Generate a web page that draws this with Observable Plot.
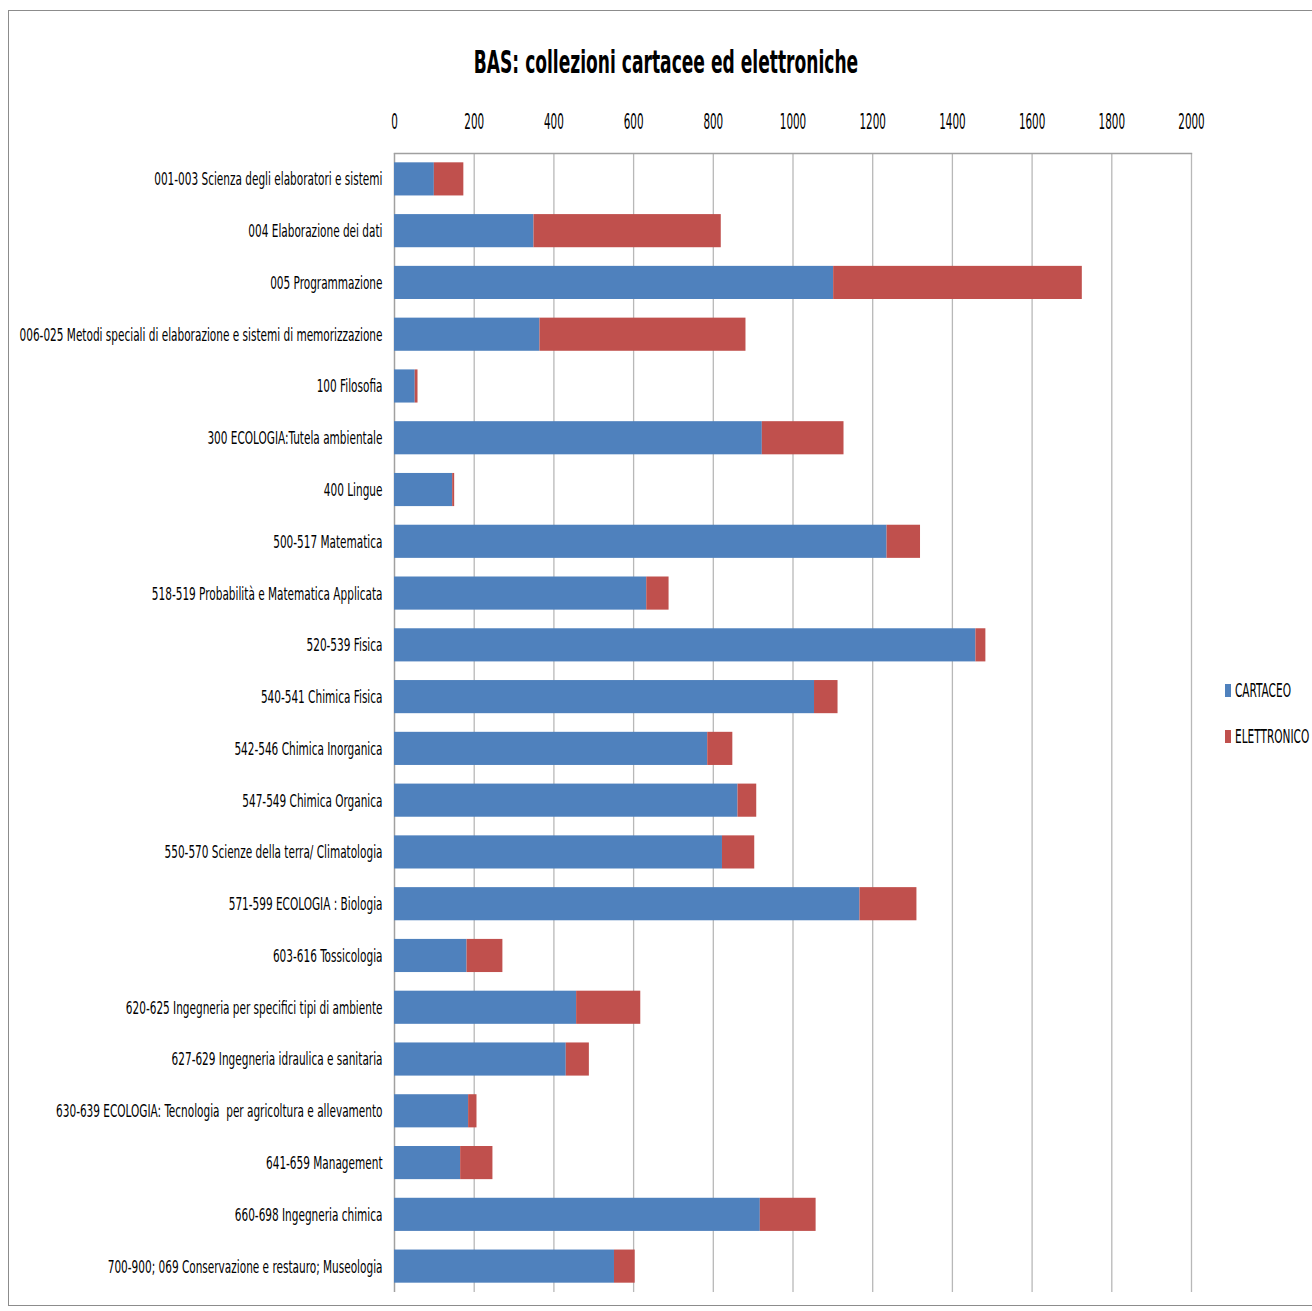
<!DOCTYPE html>
<html>
<head>
<meta charset="utf-8">
<script src="https://cdn.jsdelivr.net/npm/d3@7"></script>
<script src="https://cdn.jsdelivr.net/npm/@observablehq/plot@0.6"></script>
<style>
  html, body { margin: 0; padding: 0; background: #fff; }
  #frame { position: absolute; left: 8px; top: 10px; width: 1310px; height: 1296px; border: 1px solid #8c8c8c; border-right: none; box-sizing: border-box; }
  #title { position: absolute; left: 0; top: 43px; width: 1332px; text-align: center; font-family: "DejaVu Sans Condensed", sans-serif; font-weight: bold; font-size: 25px; color: #000; transform: scale(0.76, 1.3); transform-origin: center top; white-space: nowrap; }
  #chart { position: absolute; left: 0; top: 90px; }
  #chart svg text { font-family: "DejaVu Sans Condensed", sans-serif; }
  .legend { position: absolute; left: 1225px; font-family: "DejaVu Sans Condensed", sans-serif; font-size: 17px; color: #000; display: flex; align-items: center; white-space: nowrap; }
  .legend .lbl { display: inline-block; transform: scale(0.69, 1.1); transform-origin: left center; }
  .sw { display: inline-block; width: 6px; height: 13px; margin-right: 4px; }
</style>
</head>
<body>
<div id="frame"></div>
<div id="title">BAS: collezioni cartacee ed elettroniche</div>
<div id="chart"></div>
<div class="legend" style="top:680px"><span class="sw" style="background:#4F81BD"></span><span class="lbl">CARTACEO</span></div>
<div class="legend" style="top:726px"><span class="sw" style="background:#C0504D"></span><span class="lbl">ELETTRONICO</span></div>
<script>
const categories = [
  "001-003 Scienza degli elaboratori e sistemi",
  "004 Elaborazione dei dati",
  "005 Programmazione",
  "006-025 Metodi speciali di elaborazione e sistemi di memorizzazione",
  "100 Filosofia",
  "300 ECOLOGIA:Tutela ambientale",
  "400 Lingue",
  "500-517 Matematica",
  "518-519 Probabilità e Matematica Applicata",
  "520-539 Fisica",
  "540-541 Chimica Fisica",
  "542-546 Chimica Inorganica",
  "547-549 Chimica Organica",
  "550-570 Scienze della terra/ Climatologia",
  "571-599 ECOLOGIA : Biologia",
  "603-616 Tossicologia",
  "620-625 Ingegneria per specifici tipi di ambiente",
  "627-629 Ingegneria idraulica e sanitaria",
  "630-639 ECOLOGIA: Tecnologia  per agricoltura e allevamento",
  "641-659 Management",
  "660-698 Ingegneria chimica",
  "700-900; 069 Conservazione e restauro; Museologia"
];
const cartaceo = [100, 350, 1102, 365, 52, 923, 146, 1236, 633, 1459, 1054, 786, 862, 823, 1168, 182, 457, 431, 186, 166, 918, 552];
const elettronico = [74, 470, 624, 517, 7, 205, 5, 84, 56, 25, 59, 63, 47, 81, 143, 90, 161, 58, 21, 81, 140, 52];
const seriesNames = ["CARTACEO", "ELETTRONICO"];
const seriesColors = ["#4F81BD", "#C0504D"];
const xTicks = [0, 200, 400, 600, 800, 1000, 1200, 1400, 1600, 1800, 2000];

const table = [];
categories.forEach((c, i) => {
  table.push({category: c, series: seriesNames[0], value: cartaceo[i]});
  table.push({category: c, series: seriesNames[1], value: elettronico[i]});
});

const chart = Plot.plot({
  width: 1210,
  height: 1207,
  marginLeft: 394,
  marginRight: 19,
  marginTop: 63,
  marginBottom: 5,
  x: {domain: [0, 2000], ticks: xTicks, axis: null},
  y: {domain: categories, paddingInner: 0.36, paddingOuter: 0.18, round: false, axis: null},
  color: {domain: seriesNames, range: seriesColors},
  marks: [
    Plot.gridX(xTicks, {stroke: "#b8b8b8", strokeOpacity: 1, strokeWidth: 1.3}),
    Plot.ruleX([0], {stroke: "#a0a0a0", strokeWidth: 1.3}),
    Plot.frame({anchor: "top", stroke: "#a0a0a0", strokeWidth: 1.3}),
    Plot.axisX(xTicks, {anchor: "top", label: null, tickSize: 0, tickPadding: 26, fontSize: 17, fill: "#000", tickFormat: d => String(d)}),
    Plot.axisY({anchor: "left", label: null, tickSize: 0, tickPadding: 12, fontSize: 17, fill: "#000"}),
    Plot.barX(table, Plot.stackX({y: "category", x: "value", fill: "series", order: seriesNames}))
  ]
});
document.getElementById("chart").appendChild(chart);

function squeeze(selector, sx, sy, anchor) {
  chart.querySelectorAll(selector).forEach(t => {
    const b = t.getBBox();
    const ax = anchor === "end" ? b.x + b.width : b.x + b.width / 2;
    const ay = b.y + b.height / 2;
    const ex = t.getAttribute("transform") || "";
    t.setAttribute("transform", `${ex} translate(${ax},${ay}) scale(${sx},${sy}) translate(${-ax},${-ay})`);
  });
}
squeeze('g[aria-label="y-axis tick label"] text', 0.688, 1.08, "end");
squeeze('g[aria-label="x-axis tick label"] text', 0.68, 1.3, "middle");
</script>
</body>
</html>
